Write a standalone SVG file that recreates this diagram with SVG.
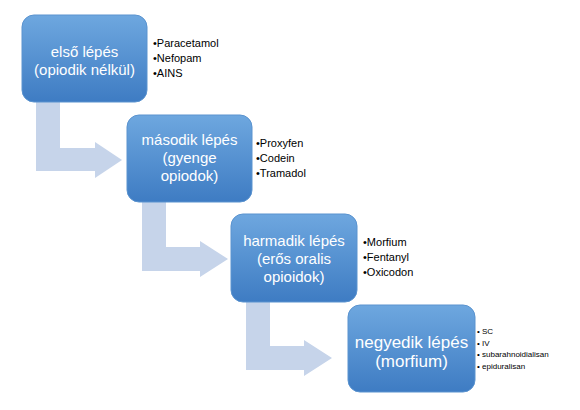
<svg xmlns="http://www.w3.org/2000/svg" width="580" height="410" viewBox="0 0 580 410">
<defs>
<linearGradient id="boxg" x1="0" y1="0" x2="0" y2="1">
<stop offset="0" stop-color="#6ea7df"/>
<stop offset="1" stop-color="#3e7cc3"/>
</linearGradient>
<style>
.box{fill:url(#boxg);stroke:#5a93cf;stroke-width:1}
.arrow{fill:#c6d4ea}
.t{font-family:"Liberation Sans","Open Sans",Arial,sans-serif;font-size:15px;fill:#ffffff;text-anchor:middle}
.b{font-family:"Liberation Sans","Open Sans",Arial,sans-serif;font-size:11px;fill:#000000}
.s{font-family:"Liberation Sans","Open Sans",Arial,sans-serif;font-size:8px;fill:#000000}
</style>
</defs>
<rect width="580" height="410" fill="#ffffff"/>
<g id="connectors">
<path class="arrow" d="M36,95 H60 V148 H95 V142 L122,160 L95,178 V171 H36 Z"/>
<path class="arrow" d="M142,195 H166 V247 H200 V241 L228,259 L200,277 V271 H142 Z"/>
<path class="arrow" d="M246,295 H270 V346 H304 V340 L332,358 L304,376 V370 H246 Z"/>
</g>
<g id="step1">
<rect class="box" x="22" y="15" width="125" height="87" rx="12"/>
<text class="t" x="84.5" y="57">első lépés</text>
<text class="t" x="84.5" y="75">(opiodik nélkül)</text>
<text class="b" x="153" y="47">•Paracetamol</text>
<text class="b" x="153" y="62">•Nefopam</text>
<text class="b" x="153" y="77">•AINS</text>
</g>
<g id="step2">
<rect class="box" x="127" y="115" width="125" height="87" rx="12"/>
<text class="t" x="189.5" y="145">második lépés</text>
<text class="t" x="189.5" y="163">(gyenge</text>
<text class="t" x="189.5" y="181">opiodok)</text>
<text class="b" x="256" y="147">•Proxyfen</text>
<text class="b" x="256" y="162">•Codein</text>
<text class="b" x="256" y="177">•Tramadol</text>
</g>
<g id="step3">
<rect class="box" x="231" y="214" width="126" height="88" rx="12"/>
<text class="t" x="294" y="246">harmadik lépés</text>
<text class="t" x="294" y="264">(erős oralis</text>
<text class="t" x="294" y="282">opioidok)</text>
<text class="b" x="363" y="246">•Morfium</text>
<text class="b" x="363" y="261">•Fentanyl</text>
<text class="b" x="363" y="276">•Oxicodon</text>
</g>
<g id="step4">
<rect class="box" x="348" y="305" width="127" height="87" rx="12"/>
<text class="t" x="411.5" y="348" style="font-size:17px">negyedik lépés</text>
<text class="t" x="411.5" y="367" style="font-size:17px">(morfium)</text>
<text class="s" x="477" y="334">• SC</text>
<text class="s" x="477" y="346">• IV</text>
<text class="s" x="477" y="357">• subarahnoidialisan</text>
<text class="s" x="477" y="369">• epiduralisan</text>
</g>
</svg>
